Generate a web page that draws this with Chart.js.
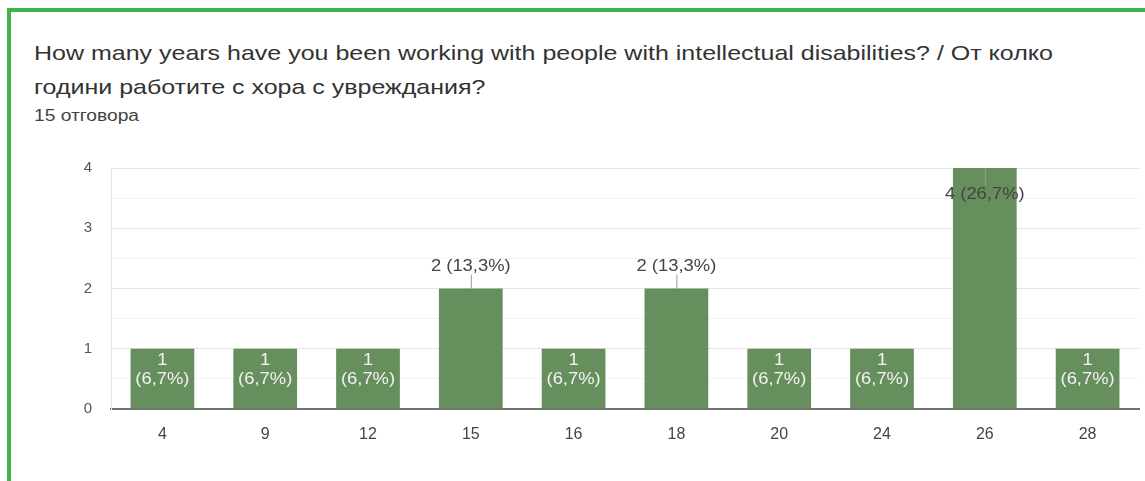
<!DOCTYPE html>
<html>
<head>
<meta charset="utf-8">
<script src="https://cdn.jsdelivr.net/npm/chart.js@4/dist/chart.umd.min.js"></script>
<style>
  body { margin: 0; background: #fff; font-family: "Liberation Sans", Arial, sans-serif; }
  #wrap { position: relative; width: 1145px; height: 481px; overflow: hidden; background: #fff; }
  #frame { position: absolute; left: 7px; top: 8px; right: 0; bottom: 0;
           border-top: 4px solid #3cb54a; border-left: 4px solid #3cb54a; }
  .txt { position: absolute; left: 34px; white-space: nowrap; transform-origin: 0 0; }
  #t1 { top: 41px; font-size: 21px; color: #333; transform: scaleX(1.19); }
  #t2 { top: 75px; font-size: 21px; color: #333; transform: scaleX(1.19); }
  #sub { top: 107px; font-size: 16px; color: #444; transform: scaleX(1.2); }
  #box { position: absolute; left: 0; top: 0; width: 1145px; height: 481px; }
</style>
</head>
<body>
<div id="wrap">
  <div id="frame"></div>
  <div class="txt" id="t1">How many years have you been working with people with intellectual disabilities? / От колко</div>
  <div class="txt" id="t2">години работите с хора с увреждания?</div>
  <div class="txt" id="sub">15 отговора</div>
  <div id="box"><canvas id="yearsChart"></canvas></div>
</div>
<script>
// years of work experience and how many people answered each
const years = ['4', '9', '12', '15', '16', '18', '20', '24', '26', '28'];
const responses = [1, 1, 1, 2, 1, 2, 1, 1, 4, 1];

const barGreen = '#668f5d';

// writes "n (p%)" on each bar, the way the forms summary does
const valueLabels = {
  id: 'valueLabels',
  afterDatasetsDraw(chart) {
    const { ctx, chartArea } = chart;
    const total = responses.reduce((a, b) => a + b, 0);
    const meta = chart.getDatasetMeta(0);
    const put = (text, x, y) => {
      ctx.save();
      ctx.translate(x, y);
      ctx.scale(1.15, 1);
      ctx.fillText(text, 0, 0);
      ctx.restore();
    };
    meta.data.forEach((bar, i) => {
      const v = responses[i];
      const pct = '(' + (v / total * 100).toFixed(1).replace('.', ',') + '%)';
      const h = bar.base - bar.y;
      ctx.save();
      ctx.font = '16px "Liberation Sans", Arial, sans-serif';
      ctx.textAlign = 'center';
      ctx.textBaseline = 'middle';
      ctx.strokeStyle = '#9a9a9a';
      ctx.lineWidth = 1;
      if (h < 80) {
        ctx.fillStyle = '#f2f2f2';
        put(String(v), bar.x, bar.y + 12);
        put(pct, bar.x, bar.y + 31);
      } else if (bar.y - chartArea.top > 45) {
        ctx.fillStyle = '#444';
        ctx.beginPath();
        ctx.moveTo(bar.x + 0.5, bar.y - 14);
        ctx.lineTo(bar.x + 0.5, bar.y);
        ctx.stroke();
        put(v + ' ' + pct, bar.x, bar.y - 22);
      } else {
        ctx.fillStyle = '#444';
        ctx.beginPath();
        ctx.moveTo(bar.x + 0.5, bar.y);
        ctx.lineTo(bar.x + 0.5, bar.y + 17);
        ctx.stroke();
        put(v + ' ' + pct, bar.x, bar.y + 27);
      }
      ctx.restore();
    });
  }
};

new Chart(document.getElementById('yearsChart'), {
  type: 'bar',
  data: {
    labels: years,
    datasets: [{
      data: responses,
      backgroundColor: barGreen,
      borderWidth: 0,
      categoryPercentage: 1,
      barPercentage: 0.62
    }]
  },
  options: {
    responsive: true,
    maintainAspectRatio: false,
    animation: false,
    layout: { padding: { left: 0, right: 6, top: 168, bottom: 42 } },
    plugins: {
      legend: { display: false },
      tooltip: { enabled: false }
    },
    scales: {
      x: {
        grid: { display: false },
        border: { display: true, color: '#707070', width: 2 },
        ticks: { color: '#444', padding: 8, font: { size: 16, family: '"Liberation Sans", Arial, sans-serif' } },
        afterFit: (s) => { s.height = 30; }
      },
      y: {
        min: 0,
        max: 4,
        grid: {
          drawTicks: false,
          color: (c) => (c.tick && c.tick.value % 1 === 0) ? '#e4e4e4' : '#f3f3f3'
        },
        border: { display: true, color: '#e4e4e4' },
        ticks: {
          stepSize: 0.5,
          padding: 19,
          color: '#555',
          font: { size: 15, family: '"Liberation Sans", Arial, sans-serif' },
          callback: (v) => Number.isInteger(v) ? v : ''
        },
        afterFit: (s) => { s.width = 111; }
      }
    }
  },
  plugins: [valueLabels]
});
</script>
</body>
</html>
